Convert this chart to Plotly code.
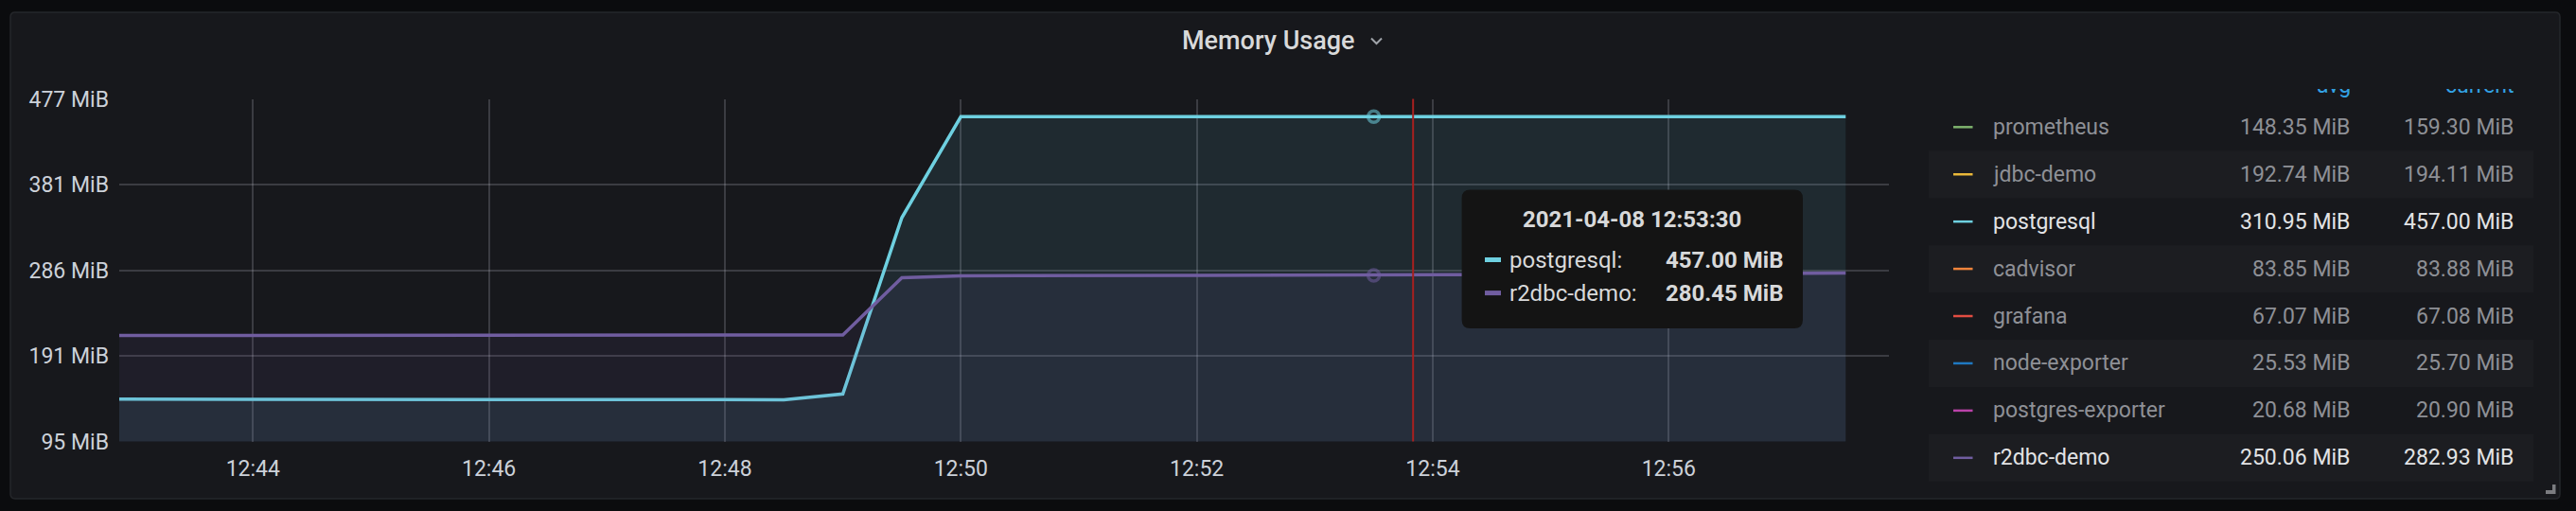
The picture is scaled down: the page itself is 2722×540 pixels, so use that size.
import plotly.graph_objects as go
import pandas as pd

# ---------------- data ----------------
times = pd.date_range("2021-04-08 12:42:30", periods=31, freq="30s")

postgresql = [142.6, 142.6, 142.5, 142.5, 142.4, 142.4, 142.3, 142.3, 142.2, 142.2,
              142.1, 142.0, 141.9, 148.3, 344.6,
              457.0, 457.0, 457.0, 457.0, 457.0, 457.0, 457.0, 457.0,
              457.0, 457.0, 457.0, 457.0, 457.0, 457.0, 457.0, 457.0]
r2dbc_demo = [213.3, 213.3, 213.4, 213.4, 213.5, 213.5, 213.6, 213.6, 213.7, 213.7,
              213.8, 213.8, 213.9, 214.0, 277.8,
              279.9, 280.0, 280.1, 280.1, 280.2, 280.3, 280.4, 280.45,
              280.6, 280.8, 281.1, 281.5, 281.9, 282.3, 282.6, 282.93]

legend_names = ["prometheus", "jdbc-demo", "postgresql", "cadvisor", "grafana",
                "node-exporter", "postgres-exporter", "r2dbc-demo"]
legend_avg = [148.35, 192.74, 310.95, 83.85, 67.07, 25.53, 20.68, 250.06]
legend_current = [159.30, 194.11, 457.00, 83.88, 67.08, 25.70, 20.90, 282.93]
legend_colors = ["#7EB26D", "#EAB839", "#6ED0E0", "#EF843C", "#E24D42",
                 "#1F78C1", "#BA43A9", "#705DA0"]
legend_visible = [False, False, True, False, False, False, False, True]
legend_headers = ["avg", "current"]

MIB = 2 ** 20
y_tick_bytes = [1e8, 2e8, 3e8, 4e8, 5e8]
y_tick_text = ["95 MiB", "191 MiB", "286 MiB", "381 MiB", "477 MiB"]
x_tick_vals = ["2021-04-08 12:44", "2021-04-08 12:46", "2021-04-08 12:48", "2021-04-08 12:50",
               "2021-04-08 12:52", "2021-04-08 12:54", "2021-04-08 12:56"]
x_tick_text = ["12:44", "12:46", "12:48", "12:50", "12:52", "12:54", "12:56"]
x_range = ["2021-04-08 12:42:52", "2021-04-08 12:57:52"]

hover_time = pd.Timestamp("2021-04-08 12:53:30")
cursor_time = pd.Timestamp("2021-04-08 12:53:50")
title = "Memory Usage"

# ---------------- style ----------------
W, H = 2722, 540
FONT = "Roboto"
TXT = "#ccd1d9"
BRIGHT = "#e2e3e5"
DIM = "#8e9096"
OUTER_BG = "#0b0c0e"
PANEL_BG = "#17181c"
STRIPE_BG = "#1c1d21"
GRID = "rgba(204,204,220,0.20)"


def px(x):
    return x / W


def py(y):
    return 1 - y / H


def rrect(x0, y0, x1, y1, r):
    pts = [
        ("M", [(x0 + r, y0)]),
        ("L", [(x1 - r, y0)]),
        ("Q", [(x1, y0), (x1, y0 + r)]),
        ("L", [(x1, y1 - r)]),
        ("Q", [(x1, y1), (x1 - r, y1)]),
        ("L", [(x0 + r, y1)]),
        ("Q", [(x0, y1), (x0, y1 - r)]),
        ("L", [(x0, y0 + r)]),
        ("Q", [(x0, y0), (x0 + r, y0)]),
    ]
    s = ""
    for cmd, ps in pts:
        s += cmd + " " + " ".join(f"{px(a):.6f},{py(b):.6f}" for a, b in ps) + " "
    return s + "Z"


PLOT_L, PLOT_R, PLOT_T, PLOT_B = 126, 1996, 104.5, 466.6

fig = go.Figure()

fig.add_trace(go.Scatter(
    x=times, y=postgresql, mode="lines", name="postgresql",
    line=dict(color=legend_colors[2], width=3.5),
    fill="tozeroy", fillcolor="rgba(110,208,224,0.10)",
))
fig.add_trace(go.Scatter(
    x=times, y=r2dbc_demo, mode="lines", name="r2dbc-demo",
    line=dict(color=legend_colors[7], width=3.5),
    fill="tozeroy", fillcolor="rgba(112,93,160,0.10)",
))

hi = list(times).index(hover_time)
fig.add_trace(go.Scatter(
    x=[hover_time], y=[postgresql[hi]], mode="markers",
    marker=dict(symbol="circle-open", size=12, color="rgba(110,208,224,0.55)",
                line=dict(width=3.5)),
))
fig.add_trace(go.Scatter(
    x=[hover_time], y=[r2dbc_demo[hi]], mode="markers",
    marker=dict(symbol="circle-open", size=12, color="rgba(112,93,160,0.55)",
                line=dict(width=3.5)),
))

fig.update_layout(
    width=W, height=H, autosize=False,
    margin=dict(l=0, r=0, t=0, b=0, pad=0),
    paper_bgcolor=OUTER_BG, plot_bgcolor="rgba(0,0,0,0)",
    showlegend=False, hovermode=False,
    font=dict(family=FONT, color=TXT, size=23),
    xaxis=dict(
        domain=[px(PLOT_L), px(PLOT_R)], type="date", range=x_range,
        tickvals=x_tick_vals, ticktext=x_tick_text, automargin=False,
        showgrid=True, gridcolor=GRID, gridwidth=2, zeroline=False, showline=False,
        ticks="", ticklabelstandoff=12,
        tickfont=dict(family=FONT, size=23, color=TXT),
    ),
    yaxis=dict(
        domain=[py(PLOT_B), py(PLOT_T)], automargin=False,
        range=[y_tick_bytes[0] / MIB, y_tick_bytes[-1] / MIB],
        tickvals=[b / MIB for b in y_tick_bytes], ticktext=y_tick_text,
        showgrid=True, gridcolor=GRID, gridwidth=2, zeroline=False, showline=False,
        ticks="", ticklabelstandoff=10,
        tickfont=dict(family=FONT, size=23, color=TXT),
    ),
)

shapes = []
# panel background
shapes.append(dict(type="path", path=rrect(11, 13, 2705, 527, 5), xref="paper", yref="paper",
                   fillcolor=PANEL_BG, line=dict(color="#25272b", width=1.5), layer="below"))
# legend stripes
row_y0, row_h = 134.3, 49.93
for i in range(len(legend_names)):
    cy = row_y0 + i * row_h
    if i % 2 == 1:
        shapes.append(dict(type="rect", xref="paper", yref="paper",
                           x0=px(2038), x1=px(2677), y0=py(cy + row_h / 2), y1=py(cy - row_h / 2),
                           fillcolor=STRIPE_BG, line=dict(width=0), layer="below"))
    shapes.append(dict(type="line", xref="paper", yref="paper",
                       x0=px(2064), x1=px(2084.5), y0=py(cy), y1=py(cy),
                       line=dict(color=legend_colors[i], width=2.5), layer="above"))
# cursor line
shapes.append(dict(type="line", xref="x", yref="paper", x0=cursor_time, x1=cursor_time,
                   y0=py(PLOT_B), y1=py(PLOT_T), line=dict(color="#a8201f", width=2),
                   layer="above"))
# tooltip box
TX0, TY0, TX1, TY1 = 1544.6, 200.4, 1905, 347
shapes.append(dict(type="path", path=rrect(TX0, TY0, TX1, TY1, 9), xref="paper", yref="paper",
                   fillcolor="#141414", line=dict(width=0), layer="above"))
tip_rows = [(274.5, "postgresql", postgresql[hi], legend_colors[2]),
            (309.6, "r2dbc-demo", r2dbc_demo[hi], legend_colors[7])]
for ry, _, _, col in tip_rows:
    shapes.append(dict(type="line", xref="paper", yref="paper",
                       x0=px(1569), x1=px(1586), y0=py(ry), y1=py(ry),
                       line=dict(color=col, width=5), layer="above"))
# title chevron
shapes.append(dict(type="path", xref="paper", yref="paper",
                   path=f"M {px(1449)},{py(40.5)} L {px(1454.5)},{py(46)} L {px(1460)},{py(40.5)}",
                   line=dict(color="#9fa3a9", width=2), layer="above"))
# resize handle
shapes.append(dict(type="path", xref="paper", yref="paper",
                   path=(f"M {px(2697)},{py(512)} L {px(2700.5)},{py(512)} L {px(2700.5)},{py(522)} "
                         f"L {px(2690)},{py(522)} L {px(2690)},{py(518)} L {px(2697)},{py(518)} Z"),
                   fillcolor="#7b7c80", line=dict(width=0), layer="above"))
fig.update_layout(shapes=shapes)

ann = []
ann.append(dict(text=title, x=px(1340), y=py(43), xref="paper", yref="paper",
                showarrow=False, xanchor="center", yanchor="middle",
                font=dict(family=FONT, size=27, color="#d8d9da", weight=500)))
# legend header, scrolled so only its lower edge shows (clipped annotation box)
for hx, htxt in zip([2485, 2658], legend_headers):
    ann.append(dict(text=htxt, x=px(hx), y=py(105), xref="paper", yref="paper",
                    showarrow=False, xanchor="right", yanchor="bottom",
                    height=10, valign="bottom", borderpad=0,
                    font=dict(family=FONT, size=23, color="#33a2e5")))
for i, name in enumerate(legend_names):
    cy = row_y0 + i * row_h
    col = BRIGHT if legend_visible[i] else DIM
    ann.append(dict(text=name, x=px(2104), y=py(cy), xref="paper", yref="paper",
                    showarrow=False, xanchor="left", yanchor="middle",
                    font=dict(family=FONT, size=23, color=col)))
    ann.append(dict(text=f"{legend_avg[i]:.2f} MiB", x=px(2485), y=py(cy), xref="paper",
                    yref="paper", showarrow=False, xanchor="right", yanchor="middle",
                    font=dict(family=FONT, size=23, color=col)))
    ann.append(dict(text=f"{legend_current[i]:.2f} MiB", x=px(2658), y=py(cy), xref="paper",
                    yref="paper", showarrow=False, xanchor="right", yanchor="middle",
                    font=dict(family=FONT, size=23, color=col)))
# tooltip text
ann.append(dict(text="<b>" + hover_time.strftime("%Y-%m-%d %H:%M:%S") + "</b>",
                x=px((TX0 + TX1) / 2), y=py(231.5), xref="paper", yref="paper",
                showarrow=False, xanchor="center", yanchor="middle",
                font=dict(family=FONT, size=24, color="#d8d9da")))
for ry, nm, val, _ in tip_rows:
    ann.append(dict(text=nm + ":", x=px(1593), y=py(ry), xref="paper", yref="paper",
                    showarrow=False, xanchor="left", yanchor="middle",
                    font=dict(family=FONT, size=24, color="#d8d9da")))
    ann.append(dict(text=f"<b>{val:.2f} MiB</b>", x=px(1886), y=py(ry), xref="paper",
                    yref="paper", showarrow=False, xanchor="right", yanchor="middle",
                    font=dict(family=FONT, size=24, color="#d8d9da")))
fig.update_layout(annotations=ann)

fig.write_html(
    "out.html",
    config={"displayModeBar": False, "responsive": False},
    post_script="document.body.style.margin='0';document.body.style.padding='0';"
                "document.body.style.overflow='hidden';"
                "document.body.style.background='#0b0c0e';",
)
